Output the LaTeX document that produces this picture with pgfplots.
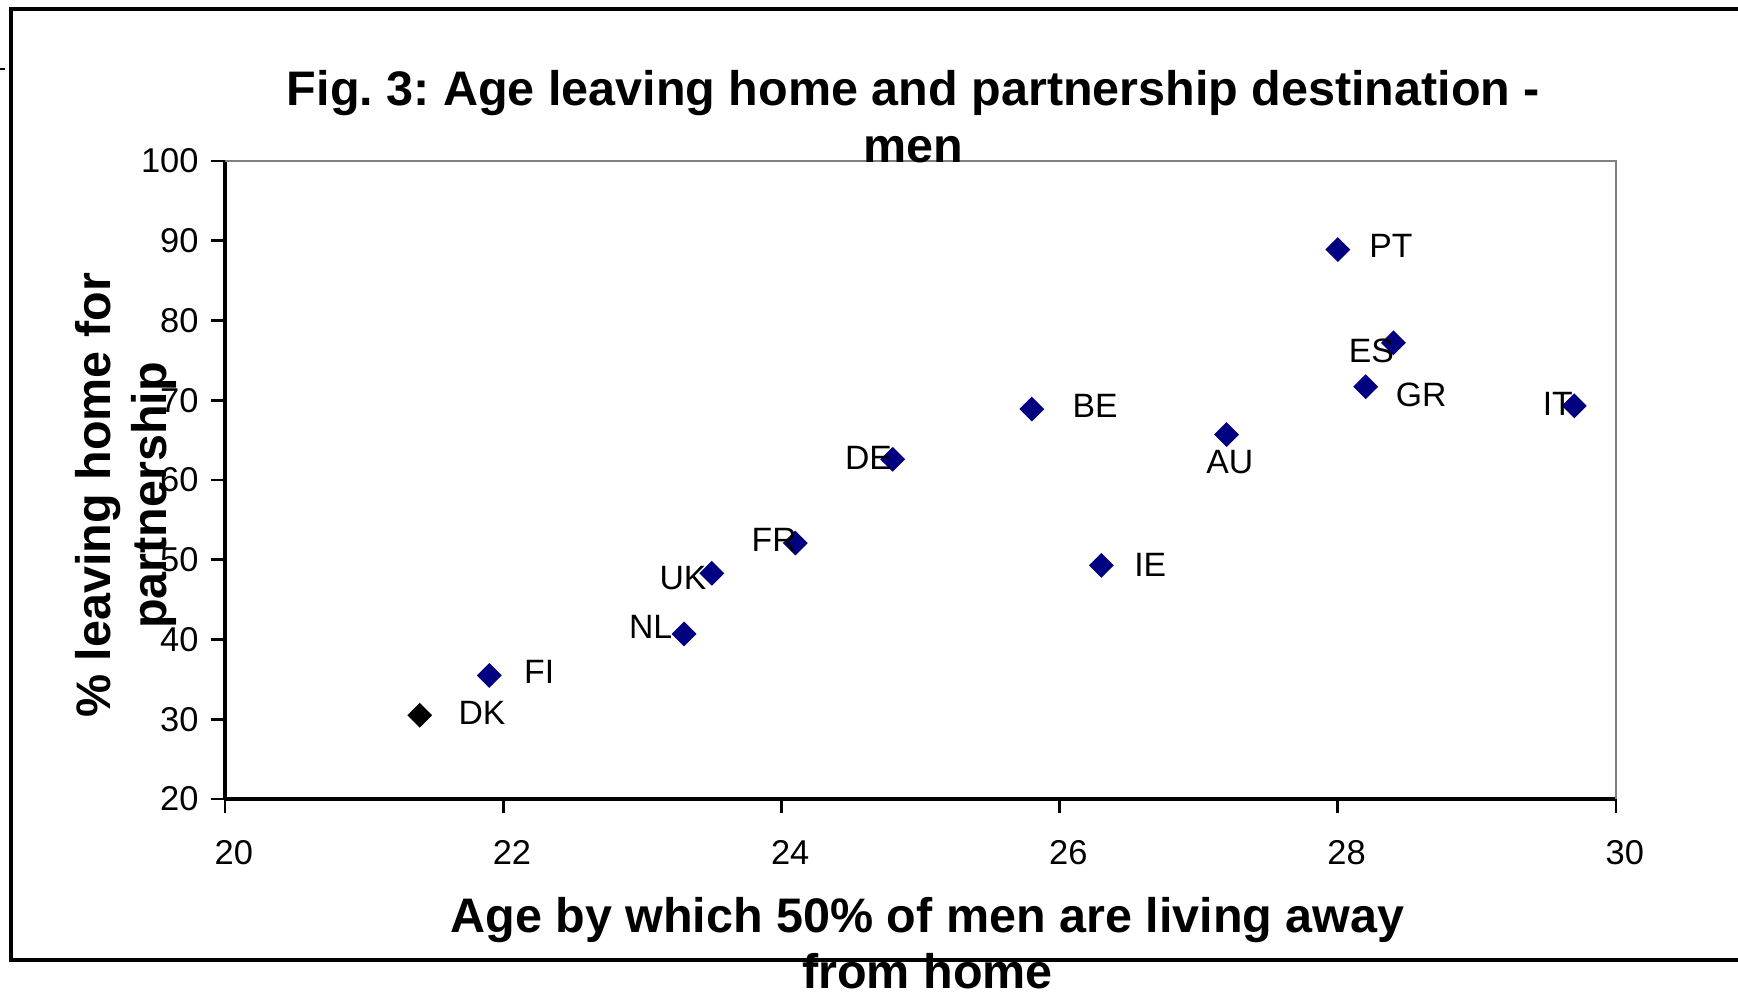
\documentclass[border=0pt]{standalone}
\usepackage{fontspec}
\setmainfont{Liberation Sans}
\usepackage{pgfplots}
\usepackage{pgfplotstable}
\pgfplotsset{compat=1.18}
\definecolor{navy}{RGB}{0,0,128}
\definecolor{bordergray}{RGB}{128,128,128}
\frenchspacing

\pgfplotstableread{
x y lab dx dy
21.9 35.5 FI 14.2 0.95
23.3 40.7 NL -9.5 1.9
23.5 48.3 UK -8.2 -1.3
24.1 52.1 FR -6.0 0.95
24.8 62.6 DE -6.9 0.3
25.8 68.9 BE 18.0 0.95
26.3 49.3 IE 13.9 0.0
27.2 65.7 AU 0.95 -7.9
28.0 88.9 PT 15.1 0.95
28.4 77.2 ES -6.3 -2.2
28.2 71.7 GR 15.8 -2.2
29.7 69.3 IT -4.7 0.6
}\navydata

\pgfplotstableread{
x y lab dx dy
21.4 30.5 DK 17.7 0.6
}\dkdata

\begin{document}
\frenchspacing
\begin{tikzpicture}
\useasboundingbox (0,0) rectangle (17.38cm,9.93cm);
% outer chart frame
\draw[line width=1pt] (17.38cm,9.84cm) -- (0.11cm,9.84cm) -- (0.11cm,0.33cm) -- (17.38cm,0.33cm);
\draw[line width=0.6pt] (0cm,9.24cm) -- (0.05cm,9.24cm);
\begin{axis}[
  at={(2.25cm,1.94cm)}, anchor=south west,
  scale only axis, width=13.91cm, height=6.38cm,
  xmin=20, xmax=30, ymin=20, ymax=100,
  xtick={20,22,...,30}, ytick={20,30,...,100},
  axis lines*=left,
  axis line style={line width=1pt, black},
  tick align=outside,
  major tick length=4pt,
  every tick/.style={black, line width=0.8pt},
  /pgf/number format/assume math mode=true,
  tick label style={font=\fontsize{9.8}{11}\selectfont},
  xticklabel style={xshift=2.5pt, yshift=-4.4pt},
  title={Fig. 3: Age leaving home and partnership destination -\\men},
  title style={at={(axis description cs:0.495,1.036)}, anchor=center, align=center,
    font=\fontsize{13.8}{16.3}\selectfont\bfseries},
  xlabel={Age by which 50\% of men are living away\\from home},
  xlabel style={at={(axis description cs:0.505,-0.226)}, anchor=center, align=center,
    font=\fontsize{13.8}{15.7}\selectfont\bfseries},
  ylabel={\% leaving home for\\partnership},
  ylabel style={at={(axis description cs:-0.071,0.476)}, anchor=center, align=center,
    font=\fontsize{13.8}{15.9}\selectfont\bfseries},
  clip=false,
]
\draw[bordergray, line width=0.7pt] (rel axis cs:0,1) -- (rel axis cs:1,1) -- (rel axis cs:1,0);
\addplot[only marks, mark=square*, mark size=2.3pt,
  mark options={rotate=45, fill=navy, draw=navy},
  nodes near coords, point meta=explicit symbolic,
  visualization depends on={\thisrow{dx} \as \dx},
  visualization depends on={\thisrow{dy} \as \dy},
  nodes near coords style={anchor=center, xshift=\dx, yshift=\dy,
    text=black, font=\fontsize{9.6}{11}\selectfont}]
  table[x=x, y=y, meta=lab] {\navydata};
\addplot[only marks, mark=square*, mark size=2.3pt,
  mark options={rotate=45, fill=black, draw=black},
  nodes near coords, point meta=explicit symbolic,
  visualization depends on={\thisrow{dx} \as \dx},
  visualization depends on={\thisrow{dy} \as \dy},
  nodes near coords style={anchor=center, xshift=\dx, yshift=\dy,
    text=black, font=\fontsize{9.6}{11}\selectfont}]
  table[x=x, y=y, meta=lab] {\dkdata};
\end{axis}
\end{tikzpicture}
\end{document}
